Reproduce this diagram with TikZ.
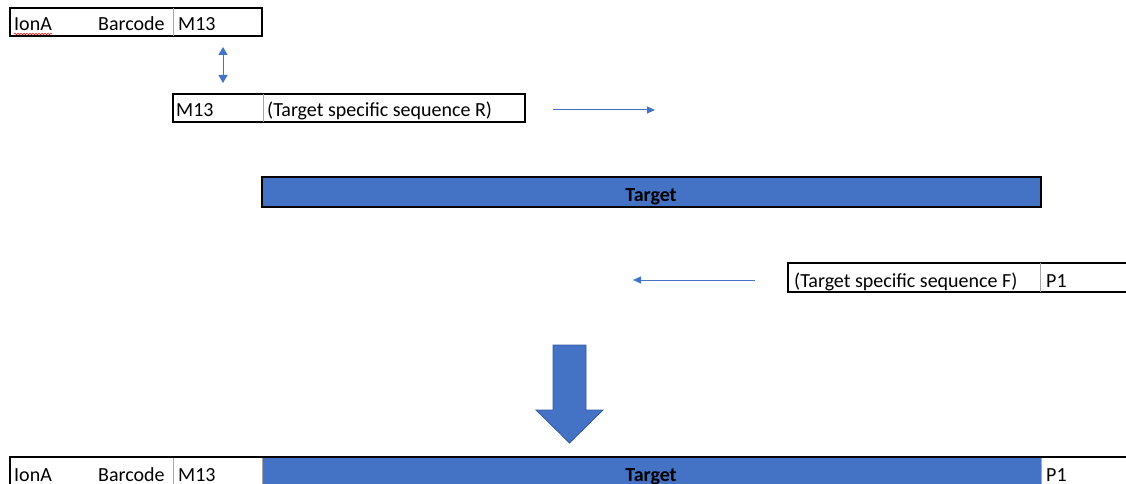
\documentclass[tikz,border=0pt]{standalone}
\usepackage{fontspec}
\setmainfont{Carlito}
\usetikzlibrary{arrows.meta,decorations.pathmorphing}
\definecolor{blockblue}{HTML}{4472C4}
\definecolor{divgray}{HTML}{A6A6A6}
\tikzset{
  cell/.style={draw=black,line width=1.3pt},
  divider/.style={divgray,line width=0.9pt},
  lbl/.style={anchor=base west,inner sep=0pt,font=\fontsize{20}{24}\selectfont},
  targetlbl/.style={anchor=base,inner sep=0pt,font=\fontsize{20}{24}\selectfont\bfseries},
  thinarrow/.style={blockblue,line width=1pt,-{Triangle[length=8pt,width=7pt]}},
}
\begin{document}
\begin{tikzpicture}[x=1pt,y=-1pt]
    \useasboundingbox (0,0) rectangle (1126,484);
    % primer R with tail
    \draw[cell] (10,8) rectangle (262,36);
    \draw[divider] (173,8) -- (173,36);
    \node[lbl] (ionTop) at (14,31) {IonA};
    \node[lbl] (barTop) at (98,31) {Barcode};
    \node[lbl] (mTop) at (178,31) {M13};
    \draw[red,line width=0.6pt,decorate,decoration={snake,amplitude=0.7pt,segment length=3pt}]
        (ionTop.base west) ++(0,3) -- ++(38,0);
    % M13 match
    \coordinate (dblA) at (223,47);
    \coordinate (dblB) at (223,83);
    \draw[blockblue,line width=1pt,{Triangle[length=8pt,width=9pt]}-{Triangle[length=8pt,width=9pt]}] (dblA) -- (dblB);
    \draw[cell] (173,94) rectangle (525,122);
    \draw[divider] (263,94) -- (263,122);
    \node[lbl] (mMid) at (176,117) {M13};
    \node[lbl] (seqR) at (267,117) {(Target specific sequence R)};
    \coordinate (rA) at (553,110);
    \coordinate (rB) at (655,110);
    \draw[thinarrow] (rA) -- (rB);
    % target
    \draw[cell,fill=blockblue] (262,177) rectangle (1041,207);
    \node[targetlbl] (tgt) at (651,201) {Target};
    % primer F
    \coordinate (lA) at (755,280);
    \coordinate (lB) at (633,280);
    \draw[thinarrow] (lA) -- (lB);
    \draw[cell] (788,263) rectangle (1140,292);
    \draw[divider] (1040,263) -- (1040,292);
    \node[lbl] (seqF) at (794,287) {(Target specific sequence F)};
    \node[lbl] (pF) at (1046,287) {P1};
    % big arrow
    \draw[blockblue!80!black,line width=0.8pt,fill=blockblue]
        (553,345) -- (586,345) -- (586,410) -- (603,410) -- (569.5,443)
        -- (536,410) -- (553,410) -- cycle;
    % product
    \fill[blockblue] (262,457) rectangle (1041,490);
    \foreach \xd in {173,262,1041}
    \draw[divider] (\xd,457) -- (\xd,490);
    \draw[cell] (10,490) -- (10,457) -- (1140,457);
    \node[lbl] (ionBot) at (14,481) {IonA};
    \node[lbl] (barBot) at (98,481) {Barcode};
    \node[lbl] (mBot) at (178,481) {M13};
    \node[targetlbl] (tgtBot) at (651,481) {Target};
    \node[lbl] (pBot) at (1046,481) {P1};
    \draw[red!60,line width=0.5pt,dotted] (ionBot.base west) ++(0,3) -- ++(38,0);
\end{tikzpicture}
\end{document}
